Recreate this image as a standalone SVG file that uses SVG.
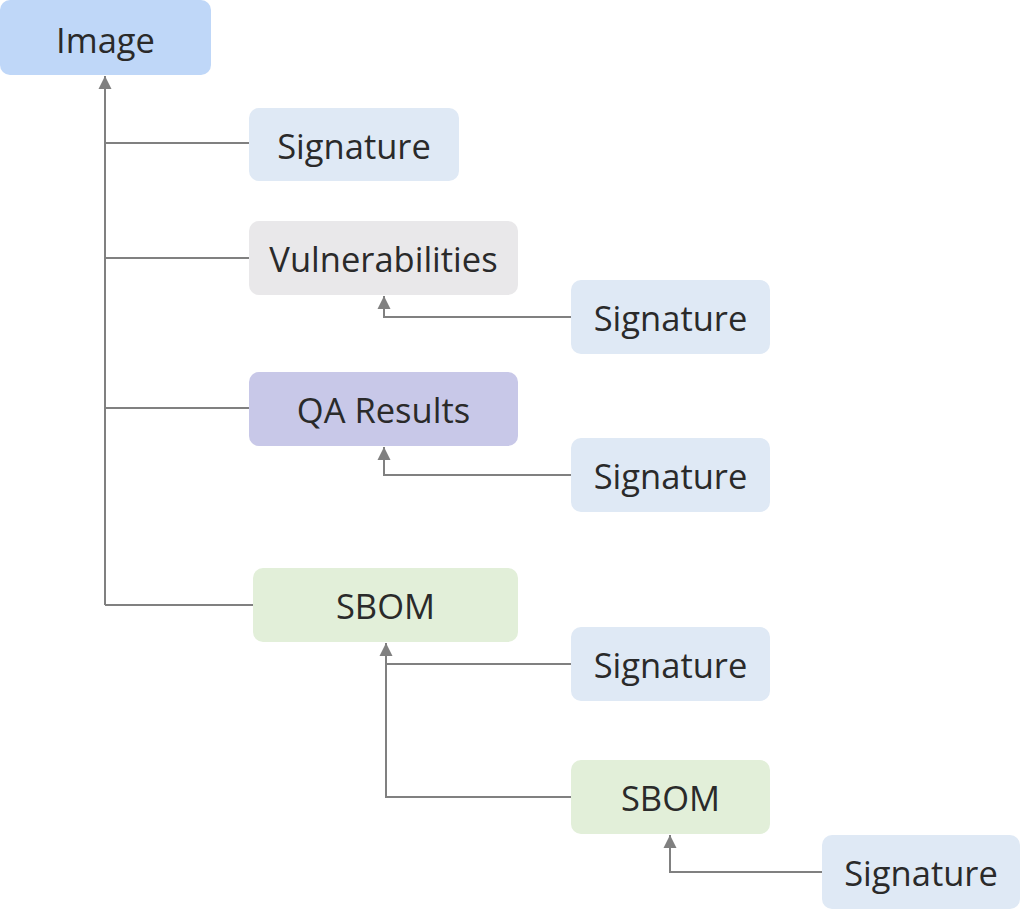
<svg xmlns="http://www.w3.org/2000/svg" width="1022" height="920" viewBox="0 0 1022 920">
<style>
.t{font-family:"Open Sans","Noto Sans","DejaVu Sans",sans-serif;font-size:34.5px;fill:#2a2a2a;text-anchor:middle}
.c{fill:none;stroke:#808080;stroke-width:2}
.blue{fill:#bfd7f8}.sig{fill:#dfe9f5}.grey{fill:#e9e8ea}.purple{fill:#c8c8e8}.green{fill:#e2efd9}
</style>
<defs>
<marker id="a" markerUnits="userSpaceOnUse" markerWidth="14" markerHeight="14" viewBox="0 0 14 14" refX="13" refY="7" orient="auto">
<path d="M0,0.5 L13,7 L0,13.5 Z" fill="#808080"/>
</marker>
</defs>
<rect width="1022" height="920" fill="#ffffff"/>
<g id="connectors">
<path class="c" d="M105,605 V76" marker-end="url(#a)"/>
<path class="c" d="M105,143 H249"/>
<path class="c" d="M105,258 H249"/>
<path class="c" d="M105,408 H249"/>
<path class="c" d="M105,605 H253"/>
<path class="c" d="M571,317 H384 V296" marker-end="url(#a)"/>
<path class="c" d="M571,475 H384 V447" marker-end="url(#a)"/>
<path class="c" d="M571,664 H387"/>
<path class="c" d="M571,797 H386 V643" marker-end="url(#a)"/>
<path class="c" d="M822,872 H670 V835" marker-end="url(#a)"/>
</g>
<g id="image"><rect class="blue" x="0" y="0" width="211" height="75" rx="10"/><text class="t" x="105.5" y="53">Image</text></g>
<g id="signature1"><rect class="sig" x="249" y="108" width="210" height="73" rx="10"/><text class="t" x="354" y="159">Signature</text></g>
<g id="vulnerabilities"><rect class="grey" x="249" y="221" width="269" height="74" rx="10"/><text class="t" x="383.5" y="272">Vulnerabilities</text></g>
<g id="signature2"><rect class="sig" x="571" y="280" width="199" height="74" rx="10"/><text class="t" x="670.5" y="331">Signature</text></g>
<g id="qa-results"><rect class="purple" x="249" y="372" width="269" height="74" rx="10"/><text class="t" x="383.5" y="423">QA Results</text></g>
<g id="signature3"><rect class="sig" x="571" y="438" width="199" height="74" rx="10"/><text class="t" x="670.5" y="489">Signature</text></g>
<g id="sbom1"><rect class="green" x="253" y="568" width="265" height="74" rx="10"/><text class="t" x="385.5" y="619">SBOM</text></g>
<g id="signature4"><rect class="sig" x="571" y="627" width="199" height="74" rx="10"/><text class="t" x="670.5" y="678">Signature</text></g>
<g id="sbom2"><rect class="green" x="571" y="760" width="199" height="74" rx="10"/><text class="t" x="670.5" y="811">SBOM</text></g>
<g id="signature5"><rect class="sig" x="822" y="835" width="198" height="74" rx="10"/><text class="t" x="921" y="886">Signature</text></g>
</svg>
